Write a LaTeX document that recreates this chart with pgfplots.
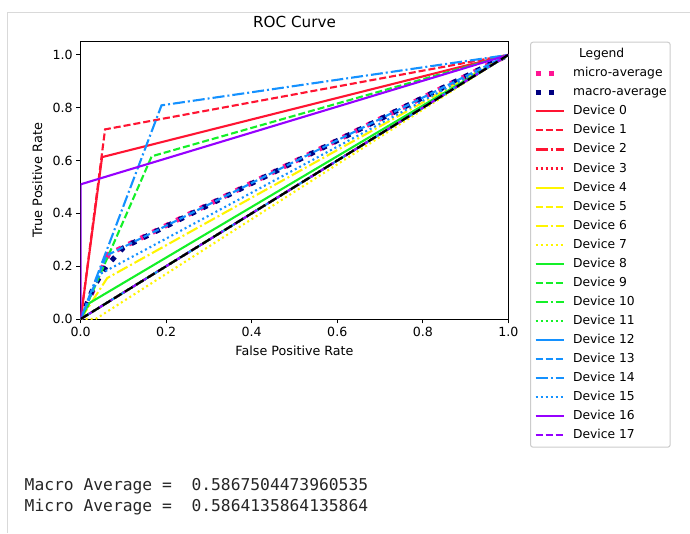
\documentclass[border=0pt]{standalone}
\usepackage{fontspec}
\setmainfont{DejaVu Sans}
\setmonofont{DejaVu Sans Mono}
\usepackage{pgfplots}
\pgfplotsset{compat=1.18}
\definecolor{cred}{RGB}{255,20,50}
\definecolor{cyel}{RGB}{255,245,0}
\definecolor{cgrn}{RGB}{20,240,40}
\definecolor{cblu}{RGB}{20,145,255}
\definecolor{cpur}{RGB}{150,0,255}
\definecolor{cpink}{RGB}{255,20,147}
\definecolor{cnavy}{RGB}{0,0,128}
\pgfplotsset{
  ln/.style={line width=2.1pt, line cap=butt},
  sld/.style={ln, solid},
  dsh/.style={ln, dash pattern=on 7pt off 3pt},
  dsd/.style={ln, dash pattern=on 12pt off 3pt on 2pt off 3pt},
  dtt/.style={ln, dash pattern=on 2pt off 3pt},
  avg/.style={line width=5pt, line cap=butt, dash pattern=on 5pt off 8.3pt,
    legend image code/.code={\draw[##1] (0pt,0pt) -- (20pt,0pt);}},
}
\begin{document}
\begin{tikzpicture}[x=1pt,y=1pt]
\useasboundingbox (0,0) rectangle (690,533);
\fill[white] (0,0) rectangle (690,533);
\draw[black!15, line width=1pt] (7.5,0) -- (7.5,520.7) -- (690,520.7);
\begin{axis}[
  at={(80.7pt,214pt)}, anchor=south west, scale only axis,
  width=427.6pt, height=277.3pt,
  xmin=0, xmax=1, ymin=0, ymax=1.05,
  xtick={0,0.2,0.4,0.6,0.8,1}, ytick={0,0.2,0.4,0.6,0.8,1},
  xticklabels={0.0,0.2,0.4,0.6,0.8,1.0},
  yticklabels={0.0,0.2,0.4,0.6,0.8,1.0},
  tick align=outside, xtick pos=left, ytick pos=left,
  major tick length=4.4pt,
  tick style={black, line width=1pt},
  axis line style={line width=1pt},
  ticklabel style={font=\fontsize{12.6}{15}\selectfont},
  title={ROC Curve},
  title style={font=\fontsize{15.2}{18}\selectfont, at={(axis description cs:0.5,1)}, anchor=center, yshift=13.4pt},
  xlabel={False Positive Rate},
  ylabel={True Positive Rate},
  xlabel style={font=\fontsize{12.7}{15}\selectfont, at={(axis description cs:0.5,0)}, anchor=center, yshift=-31.7pt},
  ylabel style={font=\fontsize{12.9}{15}\selectfont, at={(axis description cs:-0.1015,0.5)}, anchor=center},
  legend image code/.code={\draw[#1] (0pt,0pt) -- (28pt,0pt);},
  legend cell align=left,
  legend style={at={(1.0508,1)}, anchor=north west, draw=black!20, line width=1pt,
    rounded corners=2.5pt, fill=white, font=\fontsize{12.3}{14}\selectfont,
    inner xsep=2.5pt, inner ysep=5pt, row sep=5.05pt, column sep=7.5pt,
    nodes={inner sep=1pt, text height=9.5pt, text depth=2.5pt}},
]
\addlegendimage{empty legend}
\addlegendentry{\hspace{6pt}Legend}
\addplot[avg, cpink] coordinates {(0,0) (0.065,0.245) (1,1)};
\addlegendentry{micro-average}
\addplot[avg, cnavy] coordinates {(0,0) (0.03,0.12) (0.06,0.2) (0.1,0.27) (1,1)};
\addlegendentry{macro-average}
\addplot[sld, cred] coordinates {(0,0) (0.05,0.613) (1,1)};
\addlegendentry{Device 0}
\addplot[dsh, cred] coordinates {(0,0) (0.057,0.718) (1,1)};
\addlegendentry{Device 1}
\addplot[dsd, cred] coordinates {(0,0) (1,1)};
\addlegendentry{Device 2}
\addplot[dtt, cred] coordinates {(0,0) (1,1)};
\addlegendentry{Device 3}
\addplot[sld, cyel] coordinates {(0,0) (1,1)};
\addlegendentry{Device 4}
\addplot[dsh, cyel] coordinates {(0,0) (1,1)};
\addlegendentry{Device 5}
\addplot[dsd, cyel] coordinates {(0,0) (0.062,0.155) (1,1)};
\addlegendentry{Device 6}
\addplot[dtt, cyel] coordinates {(0,0) (0.035,0) (1,1)};
\addlegendentry{Device 7}
\addplot[sld, cgrn] coordinates {(0,0) (0.02,0.06) (1,1)};
\addlegendentry{Device 8}
\addplot[dsh, cgrn] coordinates {(0,0) (0.166,0.616) (1,1)};
\addlegendentry{Device 9}
\addplot[dsd, cgrn] coordinates {(0,0) (1,1)};
\addlegendentry{Device 10}
\addplot[dtt, cgrn] coordinates {(0,0) (1,1)};
\addlegendentry{Device 11}
\addplot[sld, cblu] coordinates {(0,0) (1,1)};
\addlegendentry{Device 12}
\addplot[dsh, cblu] coordinates {(0,0) (0.06,0.24) (1,1)};
\addlegendentry{Device 13}
\addplot[dsd, cblu] coordinates {(0,0) (0.189,0.809) (1,1)};
\addlegendentry{Device 14}
\addplot[dtt, cblu] coordinates {(0,0) (0.045,0.17) (1,1)};
\addlegendentry{Device 15}
\addplot[sld, cpur] coordinates {(0,0) (0,0.51) (1,1)};
\addlegendentry{Device 16}
\addplot[dsh, cpur] coordinates {(0,0) (1,1)};
\addlegendentry{Device 17}
\addplot[forget plot, black, line width=2.2pt, line cap=butt, dash pattern=on 9pt off 4pt] coordinates {(0,0) (1,1)};
\end{axis}
\node[anchor=base west, inner sep=0, text=black!85, font=\ttfamily\fontsize{16.3}{19}\selectfont] at (24.5,42.3) {Macro Average =\ \ 0.5867504473960535};
\node[anchor=base west, inner sep=0, text=black!85, font=\ttfamily\fontsize{16.3}{19}\selectfont] at (24.5,21.3) {Micro Average =\ \ 0.5864135864135864};
\end{tikzpicture}
\end{document}
